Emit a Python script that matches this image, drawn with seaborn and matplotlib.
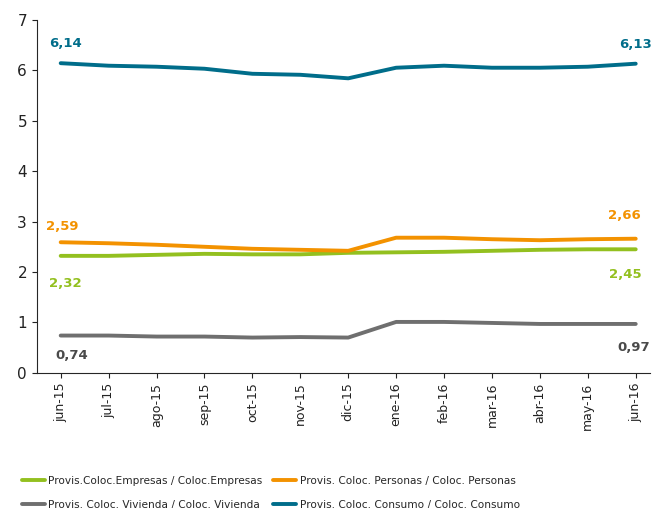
import pandas as pd
import seaborn as sns
import matplotlib.pyplot as plt

# data
months = ["jun-15", "jul-15", "ago-15", "sep-15", "oct-15", "nov-15", "dic-15",
          "ene-16", "feb-16", "mar-16", "abr-16", "may-16", "jun-16"]
empresas = [2.32, 2.32, 2.34, 2.36, 2.35, 2.35, 2.38, 2.39, 2.40, 2.42, 2.44, 2.45, 2.45]
personas = [2.59, 2.57, 2.54, 2.50, 2.46, 2.44, 2.42, 2.68, 2.68, 2.65, 2.63, 2.65, 2.66]
vivienda = [0.74, 0.74, 0.72, 0.72, 0.70, 0.71, 0.70, 1.01, 1.01, 0.99, 0.97, 0.97, 0.97]
consumo = [6.14, 6.09, 6.07, 6.03, 5.93, 5.91, 5.84, 6.05, 6.09, 6.05, 6.05, 6.07, 6.13]

series_names = ["Provis.Coloc.Empresas / Coloc.Empresas",
                "Provis. Coloc. Personas / Coloc. Personas",
                "Provis. Coloc. Vivienda / Coloc. Vivienda",
                "Provis. Coloc. Consumo / Coloc. Consumo"]
colors = ["#93C01F", "#F39200", "#6F6F6F", "#006D8A"]
label_colors = ["#93C01F", "#F39200", "#4A4A4A", "#006D8A"]

rows = []
for name, vals in zip(series_names, [empresas, personas, vivienda, consumo]):
    for i, v in enumerate(vals):
        rows.append({"pos": i, "mes": months[i], "valor": v, "serie": name})
df = pd.DataFrame(rows)

sns.set_style("ticks")
plt.rcParams["font.family"] = ["DejaVu Sans"]

fig = plt.figure(figsize=(6.56, 5.08), dpi=100)
ax = fig.add_axes([0.056, 0.266, 0.935, 0.695])

sns.lineplot(data=df, x="pos", y="valor", hue="serie", palette=colors,
             linewidth=2.8, ax=ax, legend=False)

ax.set_xlim(-0.5, 12.3)
ax.set_ylim(0, 7)
ax.set_xticks(range(len(months)))
ax.set_xticklabels(months, rotation=90, fontsize=9, color="#222222")
ax.set_yticks(range(0, 8))
ax.tick_params(axis="y", labelsize=11, colors="#222222")
ax.tick_params(axis="x", colors="#222222")
ax.set_xlabel("")
ax.set_ylabel("")
sns.despine(ax=ax)

# first / last value labels, offsets in pixels
offsets = {
    0: [(5, -28), (-10, -25)],   # empresas: below
    1: [(2, 16), (-11, 23)],     # personas: above
    2: [(11, -20), (-2, -24)],   # vivienda: below
    3: [(5, 20), (0, 19)],       # consumo: above
}
for k, vals in enumerate([empresas, personas, vivienda, consumo]):
    for j, idx in enumerate([0, len(vals) - 1]):
        ax.annotate(f"{vals[idx]:.2f}".replace(".", ","), (idx, vals[idx]),
                    xytext=offsets[k][j], textcoords="offset pixels",
                    ha="center", va="center", fontsize=9.5, fontweight="bold",
                    color=label_colors[k])

# legend rows: empresas/personas, vivienda/consumo
order = [0, 2, 1, 3]
handles = [plt.Line2D([], [], color=colors[i], linewidth=2.8) for i in order]
labels = [series_names[i] for i in order]
fig.legend(handles, labels, loc="upper left", bbox_to_anchor=(0.0335, 0.063),
           ncol=2, frameon=False, fontsize=7.6, handlelength=2.2, handletextpad=0.3,
           columnspacing=1.0, labelspacing=1.3, borderaxespad=0, borderpad=0)

fig.savefig("out.png", dpi=100)
